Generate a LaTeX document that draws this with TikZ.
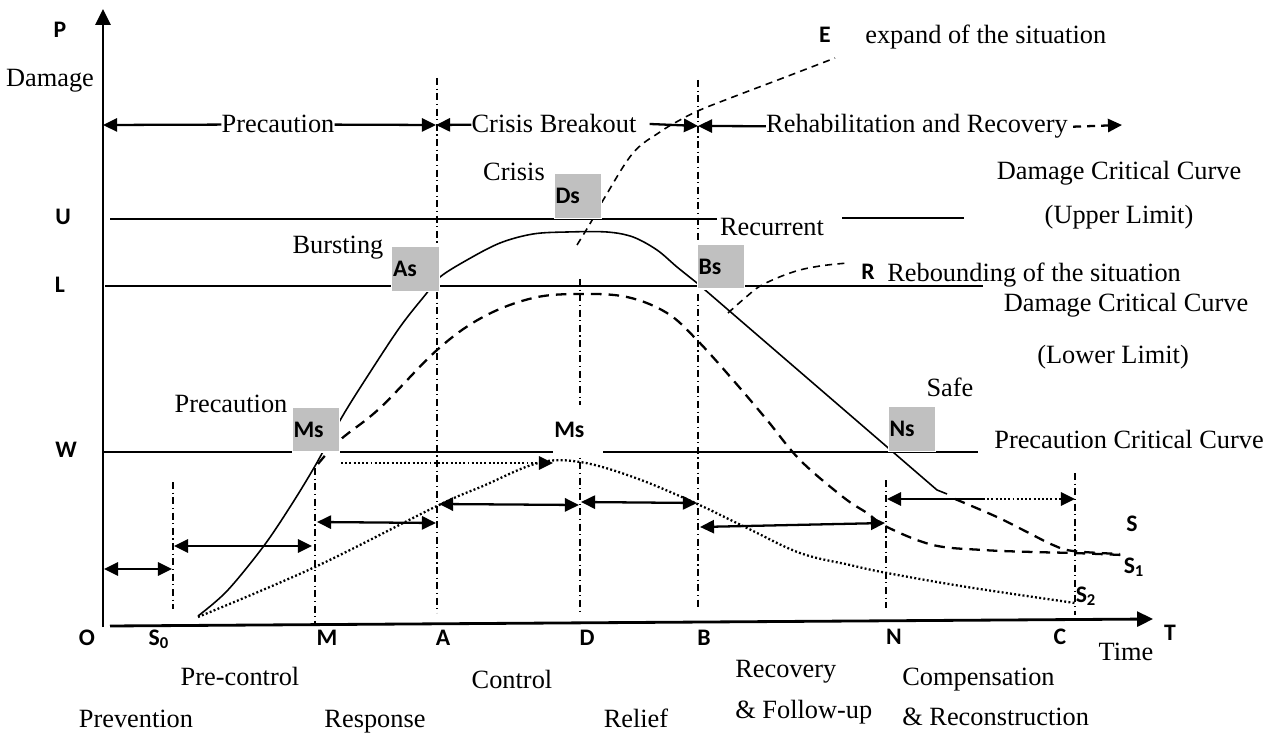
\documentclass[tikz,border=0pt]{standalone}
\usepackage{fontspec}
\setmainfont{Liberation Serif}
\newfontfamily\labelfont{Carlito}
\usetikzlibrary{arrows.meta}
\definecolor{boxgray}{HTML}{C0C0C0}

\begin{document}
\begin{tikzpicture}[x=0.02cm, y=-0.02cm,
  font=\fontsize{15}{18}\selectfont,
  txt/.style={inner sep=0pt, anchor=base},
  txtw/.style={inner sep=0pt, anchor=base west},
  tag/.style={font=\labelfont\bfseries\fontsize{13.5}{16}\selectfont, inner sep=0pt, anchor=base},
  stagebox/.style={fill=boxgray, draw=white, line width=0.6pt, minimum height=0.9cm,
    text width=0.9cm, inner xsep=0.6pt, inner ysep=0pt, align=left,
    font=\labelfont\bfseries\fontsize{13.5}{16}\selectfont},
  axis/.style={line width=1.6pt, -{Triangle[length=9pt,width=8.5pt]}},
  crit/.style={line width=1pt},
  phase/.style={line width=0.8pt, dash pattern=on 4pt off 2pt on 0.7pt off 2pt},
  span/.style={line width=1.3pt, {Triangle[length=8pt,width=7.5pt]}-{Triangle[length=8pt,width=7.5pt]}},
  tip/.style={-{Triangle[length=8pt,width=7.5pt]}},
  mainline/.style={line width=0.9pt},
  bigdash/.style={line width=1.3pt, dash pattern=on 6pt off 4pt},
  thindash/.style={line width=0.9pt, dash pattern=on 4pt off 3pt},
  dotline/.style={line width=1.3pt, dash pattern=on 1.1pt off 1.3pt},
]
\useasboundingbox (0,0) rectangle (1282,733);

% axes
\coordinate (O) at (103,627);
\coordinate (ytip) at (103,9);
\coordinate (xstart) at (110,626);
\coordinate (xtip) at (1153,619);
\draw[axis] (O) -- (ytip);
\draw[axis] (xstart) -- (xtip);

% phase boundaries
\foreach \nm/\x/\ya/\yb in {S0/173/482/609, M/315/468/623, A/437/78/613, D/580/279/613,
                            B/698/80/610, N/886/480/608, C/1075/473/615}
  \draw[phase] (\x,\ya) coordinate (top\nm) -- (\x,\yb) coordinate (bot\nm);

% critical curves
\draw[crit] (110,219) -- (717,219) (842,218) -- (964,218);
\draw[crit] (105,286) -- (983,286);
\draw[crit] (103,452) -- (978,452);

% situation curves
\draw[mainline] plot[smooth, tension=0.55] coordinates {(198,616) (227,591) (263,547) (290,507)
  (315,466) (342,417) (367,377) (400,327) (426,294) (440,277) (467,260) (500,243) (533,234)
  (567,232) (607,232) (633,237) (657,250) (677,267) (697,283)} -- (937,490) -- (947,494);
\draw[bigdash] plot[smooth, tension=0.6] coordinates {(955,499) (997,517) (1027,532) (1053,545)
  (1073,551) (1120,554)};
\draw[bigdash] plot[smooth, tension=0.6] coordinates {(318,464) (340,440) (380,408) (437,350)
  (483,317) (533,298) (580,294) (627,297) (667,313) (697,340) (733,380) (767,420) (800,460)
  (843,497) (867,513) (887,527) (933,545) (983,550) (1033,552) (1073,553) (1122,555)};
\draw[dotline] plot[smooth, tension=0.6] coordinates {(198,617) (315,567) (437,506) (483,486)
  (538,463) (580,462) (633,477) (693,502) (747,528) (800,553) (850,565) (887,573) (967,587)
  (1075,603)};
\draw[thindash] plot[smooth, tension=0.6] coordinates {(577,245) (591,222) (605,197) (633,153)
  (660,132) (680,120) (700,110) (733,97) (783,78) (835,58)};
\draw[thindash] plot[smooth, tension=0.6] coordinates {(728,313) (745,298) (762,285) (793,272)
  (820,266) (848,263)};

% state boxes
\node[stagebox] (boxDs) at (578,196) {Ds};
\node[stagebox] (boxAs) at (415.5,269) {As};
\node[stagebox] (boxBs) at (721,266.5) {Bs};
\node[stagebox] (boxMs) at (316,429.5) {Ms};
\node[stagebox] (boxNs) at (912,429) {Ns};
\node[stagebox, fill=white, draw=none, minimum height=1cm, text width=0.95cm] (midMs) at (578,430) {Ms};

\coordinate (msR) at (341,463);
\coordinate (msD) at (553,463);
\draw[dotline, tip] (msR) -- (msD);

% top phases
\node[txt] (precTop) at (278,133) {Precaution};
\node[txt] (crisisTop) at (554,133) {Crisis Breakout};
\node[txt] (rehabTop) at (917,133) {Rehabilitation and Recovery};
\coordinate (yT) at (103,125);
\coordinate (aT) at (436,125);
\coordinate (bT) at (698,126);
\coordinate (rT) at (1122,125);
\draw[line width=1.3pt, tip] (precTop) -- (yT);
\draw[line width=1.3pt, tip] (precTop) -- (aT);
\draw[line width=1.3pt, tip] (crisisTop) -- (aT);
\draw[line width=1.3pt, tip] ([xshift=0.26cm]crisisTop.east) -- (bT);
\draw[line width=1.3pt, tip] (rehabTop) -- (bT);
\draw[line width=1.3pt, dash pattern=on 4.5pt off 3.5pt, tip] ([xshift=0.1cm]rehabTop.east) -- (rT);

% bottom spans
\coordinate (o1) at (104,569);  \coordinate (s01) at (172,569);
\coordinate (s02) at (174,546); \coordinate (m1) at (312,546);
\coordinate (m2) at (317,522);  \coordinate (a1) at (436,523);
\coordinate (a2) at (439,504);  \coordinate (d1) at (579,505);
\coordinate (d2) at (581,502);  \coordinate (b1) at (697,503);
\coordinate (b2) at (700,527);  \coordinate (n1) at (885,523);
\coordinate (n2) at (887,499);  \coordinate (nc) at (983,499); \coordinate (c1) at (1075,499);
\draw[span] (o1) -- (s01);
\draw[span] (s02) -- (m1);
\draw[span] (m2) -- (a1);
\draw[span] (a2) -- (d1);
\draw[span] (d2) -- (b1);
\draw[span] (b2) -- (n1);
\draw[line width=1.3pt, {Triangle[length=8pt,width=7.5pt]}-] (n2) -- (nc);
\draw[dotline, tip] (nc) -- (c1);

% labels
\node[tag] (lblP) at (60,38) {P};
\node[txt] (lblDamage) at (50,87) {Damage};
\node[tag] (lblE) at (825,43) {E};
\node[txtw] (lblExpand) at (865,44) {expand of the situation};
\node[txt] (lblCrisis) at (514,181) {Crisis};
\node[txt] (lblDccU) at (1119,180) {Damage Critical Curve};
\node[txt] (lblUpper) at (1119,224) {(Upper Limit)};
\node[tag] (lblU) at (63,225) {U};
\node[tag] (lblL) at (60,293) {L};
\node[tag] (lblW) at (66,458) {W};
\node[txt] (lblBurst) at (338,254) {Bursting};
\node[txt] (lblRecur) at (772,236) {Recurrent};
\node[tag] (lblR) at (868,280) {R};
\node[txtw] (lblRebound) at (887,282) {Rebounding of the situation};
\node[txt] (lblDccL) at (1126,312) {Damage Critical Curve};
\node[txt] (lblLower) at (1113,363) {(Lower Limit)};
\node[txt] (lblSafe) at (950,397) {Safe};
\node[txt] (lblPcc) at (1129,448) {Precaution Critical Curve};
\node[txt] (lblPrecMid) at (231,413) {Precaution};

\node[tag] (lblO) at (87,645) {O};
\node[tag] (lblS0) at (159,645) {S\textsubscript{0}};
\node[tag] (lblM) at (327,645) {M};
\node[tag] (lblA) at (443,645) {A};
\node[tag] (lblD) at (587,645) {D};
\node[tag] (lblB) at (704,645) {B};
\node[tag] (lblN) at (894,644) {N};
\node[tag] (lblC) at (1060,644) {C};
\node[tag] (lblT) at (1170,640) {T};
\node[txt] (lblTime) at (1126,660) {Time};
\node[tag] (lblS) at (1132,531) {S};
\node[tag] (lblS1) at (1134,573) {S\textsubscript{1}};
\node[tag] (lblS2) at (1086,602) {S\textsubscript{2}};

\node[txt] (lblPrectrl) at (240,685) {Pre-control};
\node[txt] (lblPrev) at (136,727) {Prevention};
\node[txt] (lblResp) at (375,727) {Response};
\node[txt] (lblCtrl) at (512,688) {Control};
\node[txt] (lblRelief) at (636,727) {Relief};
\node[txtw] (lblRecov) at (735,677) {Recovery};
\node[txtw] (lblFollow) at (735,718) {\& Follow-up};
\node[txtw] (lblComp) at (902,685) {Compensation};
\node[txtw] (lblRecon) at (902,725) {\& Reconstruction};
\end{tikzpicture}
\end{document}
